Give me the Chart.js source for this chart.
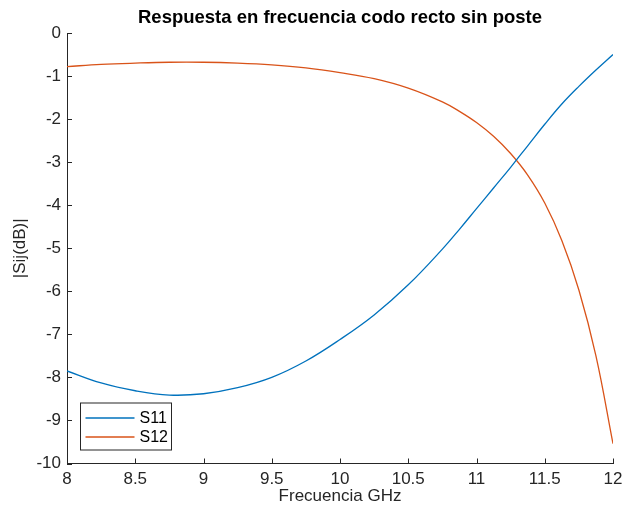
<!DOCTYPE html>
<html>
<head>
<meta charset="utf-8">
<script src="https://cdn.jsdelivr.net/npm/chart.js@4"></script>
<style>
  html, body { margin: 0; padding: 0; background: #fff; }
  #wrap { width: 625px; height: 512px; }
</style>
</head>
<body>
<div id="wrap"><canvas id="s-chart" width="625" height="512"></canvas></div>
<script>
// frequency (GHz)
const freq = [8, 8.25, 8.5, 8.75, 9, 9.25, 9.5, 9.75, 10, 10.25, 10.5, 10.75, 10.875, 11,
              11.125, 11.25, 11.375, 11.5, 11.625, 11.75, 11.875, 12];
// |S11| in dB
const s11 = [-7.85, -8.13, -8.31, -8.41, -8.38, -8.24, -8.0, -7.62, -7.12, -6.55, -5.85, -5.02, -4.56, -4.08,
             -3.6, -3.12, -2.62, -2.12, -1.65, -1.24, -0.86, -0.5];
// |S12| in dB
const s12 = [-0.78, -0.73, -0.7, -0.68, -0.68, -0.7, -0.74, -0.81, -0.92, -1.06, -1.28, -1.6, -1.82, -2.08,
             -2.4, -2.8, -3.3, -3.95, -4.82, -5.97, -7.5, -9.54];
const xTicks = [8, 8.5, 9, 9.5, 10, 10.5, 11, 11.5, 12];
const yTicks = [0, -1, -2, -3, -4, -5, -6, -7, -8, -9, -10];
const chartTitle = 'Respuesta en frecuencia codo recto sin poste';

const FONT = "'Liberation Sans', Arial, Helvetica, sans-serif";
const AXIS = '#262626';

function pts(ys) {
    return freq.map((f, i) => ({ x: f, y: ys[i] }));
}

// MATLAB style: title over the axes, ticks pointing inward, boxed legend
const matlabBits = {
    id: 'matlabBits',
    afterDatasetsDraw(chart) {
        const ctx = chart.ctx;
        const xs = chart.scales.x, ys = chart.scales.y;
        const a = chart.chartArea;
        ctx.save();

        ctx.fillStyle = '#000';
        ctx.font = 'bold 18.5px ' + FONT;
        ctx.textAlign = 'center';
        ctx.textBaseline = 'middle';
        ctx.fillText(chartTitle, (a.left + a.right) / 2, 18);

        ctx.strokeStyle = AXIS;
        ctx.lineWidth = 1;
        ctx.beginPath();
        xTicks.forEach(t => {
            const px = Math.round(xs.getPixelForValue(t)) + 0.5;
            ctx.moveTo(px, a.bottom);
            ctx.lineTo(px, a.bottom - 5);
        });
        yTicks.forEach(t => {
            const py = Math.round(ys.getPixelForValue(t)) + 0.5;
            ctx.moveTo(a.left, py);
            ctx.lineTo(a.left + 5, py);
        });
        ctx.stroke();

        // legend
        const bx = a.left + 13.5, by = a.bottom - 60.5, bw = 91, bh = 47;
        ctx.fillStyle = '#fff';
        ctx.fillRect(bx, by, bw, bh);
        ctx.strokeRect(bx, by, bw, bh);
        ctx.font = '16px ' + FONT;
        ctx.textAlign = 'left';
        ctx.textBaseline = 'middle';
        chart.data.datasets.forEach((ds, i) => {
            const ly = by + 15 + i * 19;
            ctx.strokeStyle = ds.borderColor;
            ctx.lineWidth = 1.3;
            ctx.beginPath();
            ctx.moveTo(bx + 5, ly);
            ctx.lineTo(bx + 54, ly);
            ctx.stroke();
            ctx.fillStyle = '#000';
            ctx.fillText(ds.label, bx + 59, ly + 1);
        });
        ctx.restore();
    }
};

new Chart(document.getElementById('s-chart'), {
    type: 'line',
    data: {
        datasets: [
            {
                label: 'S11',
                data: pts(s11),
                borderColor: '#0072BD',
                borderWidth: 1.3,
                pointRadius: 0,
                tension: 0.4,
                fill: false
            },
            {
                label: 'S12',
                data: pts(s12),
                borderColor: '#D95319',
                borderWidth: 1.3,
                pointRadius: 0,
                tension: 0.4,
                fill: false
            }
        ]
    },
    options: {
        responsive: false,
        animation: false,
        layout: { padding: { left: 0, right: 12, top: 33, bottom: 0 } },
        plugins: {
            legend: { display: false },
            tooltip: { enabled: false },
            title: { display: false }
        },
        scales: {
            x: {
                type: 'linear',
                min: 8,
                max: 12,
                afterFit(scale) {
                    scale.height = 48.5;
                    scale.paddingLeft = 0;
                    scale.paddingRight = 0;
                },
                afterBuildTicks(scale) { scale.ticks = xTicks.map(v => ({ value: v })); },
                grid: { display: false, drawTicks: false },
                border: { display: true, color: AXIS, width: 1 },
                ticks: {
                    color: AXIS,
                    padding: 6,
                    maxRotation: 0,
                    font: { family: FONT, size: 17 },
                    callback: v => String(v)
                },
                title: {
                    display: true,
                    text: 'Frecuencia GHz',
                    color: AXIS,
                    font: { family: FONT, size: 17 },
                    padding: { top: 0, bottom: 5 }
                }
            },
            y: {
                type: 'linear',
                min: -10,
                max: 0,
                afterFit(scale) {
                    scale.width = 67;
                    scale.paddingTop = 0;
                    scale.paddingBottom = 0;
                },
                afterBuildTicks(scale) { scale.ticks = yTicks.map(v => ({ value: v })); },
                grid: { display: false, drawTicks: false },
                border: { display: true, color: AXIS, width: 1 },
                ticks: {
                    color: AXIS,
                    padding: 6,
                    font: { family: FONT, size: 17 },
                    callback: v => String(v)
                },
                title: {
                    display: true,
                    text: '|Sij(dB)|',
                    color: AXIS,
                    font: { family: FONT, size: 17 },
                    padding: { top: 10, bottom: 0 }
                }
            }
        }
    },
    plugins: [matlabBits]
});
</script>
</body>
</html>
